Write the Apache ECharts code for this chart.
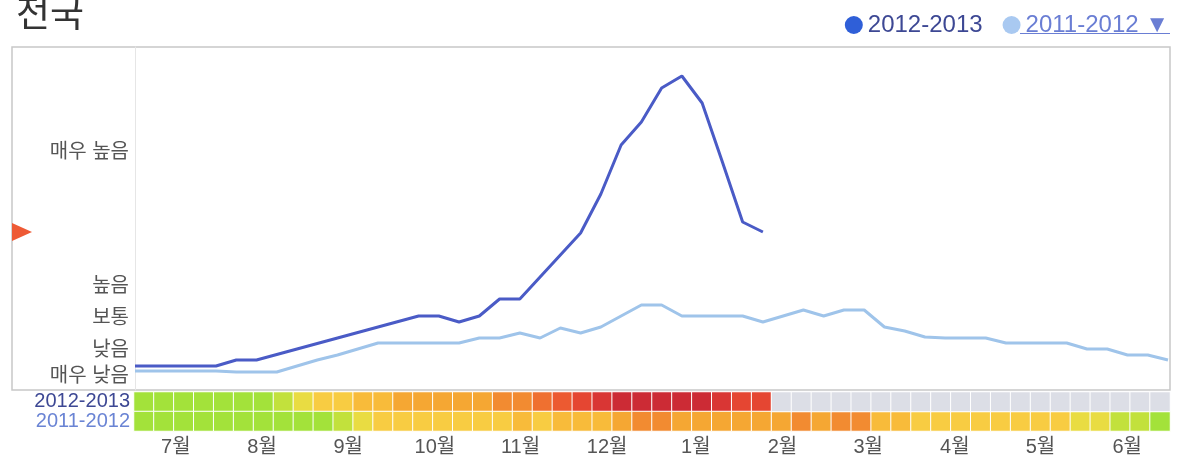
<!DOCTYPE html>
<html>
<head>
<meta charset="utf-8">
<script src="https://cdn.jsdelivr.net/npm/echarts@6/dist/echarts.min.js"></script>
<style>
html, body { margin: 0; padding: 0; background: #fff; }
#main { width: 1178px; height: 457px; }
</style>
</head>
<body>
<div id="main"></div>
<script>
// 독감 활동 지수 (주간, 7월 ~ 6월)
const seasons = ['2011-2012', '2012-2013'];
const weeks = Array.from({ length: 52 }, (_, i) => 'W' + (i + 1));
const season2013 = [24, 24, 24, 24, 24, 30, 30, 35.5, 41, 46.5, 52, 57.5, 63, 68.5, 74, 74,
  68, 74, 91, 91, 113, 135, 157, 196, 245, 268, 302, 314, 287, 228, 168, 158];
const season2012 = [19, 19, 19, 19, 19, 18, 18, 18, 24, 30, 35, 41, 47, 47, 47, 47,
  47, 52, 52, 57, 52, 62, 57, 63, 74, 85, 85, 74, 74, 74, 74, 68,
  74, 80, 74, 80, 80, 63, 59, 53, 52, 52, 52, 47, 47, 47, 47, 41,
  41, 35, 35, 30];
const levelNames = ['매우 낮음', '낮음', '보통', '높음', '매우 높음'];
const levelValues = [14, 40, 72, 104, 238];
const monthNames = ['7월', '8월', '9월', '10월', '11월', '12월', '1월', '2월', '3월', '4월', '5월', '6월'];
const monthPos = [2.1, 6.43, 10.75, 15.1, 19.4, 23.75, 28.2, 32.55, 36.85, 41.2, 45.5, 49.85];

const FONT = "'Liberation Sans', 'Noto Sans CJK KR', sans-serif";

const myChart = echarts.init(document.getElementById('main'));

// 히트맵 셀 데이터
const cells2013 = season2013.map((v, i) => [i, '2012-2013', v]);
const cells2012 = season2012.map((v, i) => [i, '2011-2012', v]);
const cellsEmpty = [];
for (let i = season2013.length; i < weeks.length; i++) {
  cellsEmpty.push([i, '2012-2013', 0]);
}

myChart.setOption({
  animation: false,
  title: {
    text: '전국',
    left: 11,
    top: -7,
    textStyle: { fontSize: 37, fontWeight: 'normal', color: '#333', fontFamily: FONT }
  },
  legend: {
    right: 4,
    top: 8,
    icon: 'circle',
    itemWidth: 18,
    itemHeight: 18,
    itemGap: 20,
    textStyle: { fontSize: 24, fontFamily: FONT },
    formatter: name => (name === '2011-2012' ? name + ' ▼' : name),
    data: [
      { name: '2012-2013', itemStyle: { color: '#2f5fd8' }, textStyle: { color: '#3d4894' } },
      { name: '2011-2012', itemStyle: { color: '#a9c9f1' }, textStyle: { color: '#6a7ed4' } }
    ]
  },
  grid: [
    { left: 135, right: 10, top: 47, height: 343 },
    { left: 134, right: 8, top: 392, height: 39 }
  ],
  xAxis: [
    {
      type: 'category', gridIndex: 0, data: weeks, boundaryGap: false,
      axisLine: { show: false }, axisTick: { show: false }, axisLabel: { show: false }
    },
    {
      type: 'category', gridIndex: 1, data: weeks,
      axisLine: { show: false }, axisTick: { show: false }, axisLabel: { show: false }
    },
    {
      type: 'value', gridIndex: 1, min: 0, max: weeks.length, position: 'bottom',
      axisLine: { show: false }, axisTick: { show: false }, splitLine: { show: false },
      axisLabel: {
        customValues: monthPos,
        formatter: v => monthNames[monthPos.indexOf(v)],
        margin: 6, fontSize: 20, color: '#555', fontFamily: FONT
      }
    }
  ],
  yAxis: [
    {
      type: 'value', gridIndex: 0, min: 0, max: 343,
      axisLine: { show: true, lineStyle: { color: '#e6e6e6' } },
      axisTick: { show: false }, splitLine: { show: false },
      axisLabel: {
        customValues: levelValues,
        formatter: v => levelNames[levelValues.indexOf(v)],
        margin: 6, fontSize: 20, color: '#555', fontFamily: FONT
      }
    },
    {
      type: 'category', gridIndex: 1, data: seasons,
      axisLine: { show: false }, axisTick: { show: false },
      axisLabel: {
        interval: 0, margin: 4, fontSize: 20, fontFamily: FONT,
        color: v => (v === '2012-2013' ? '#3d4894' : '#6a84d4')
      }
    }
  ],
  visualMap: {
    type: 'piecewise',
    show: false,
    seriesIndex: [2, 3],
    dimension: 2,
    pieces: [
      { lt: 32, color: '#a3e23a' },
      { gte: 32, lt: 38, color: '#c2e13c' },
      { gte: 38, lt: 45, color: '#e9dc42' },
      { gte: 45, lt: 55, color: '#f8cc42' },
      { gte: 55, lt: 65, color: '#f8bb3a' },
      { gte: 65, lt: 80, color: '#f5a733' },
      { gte: 80, lt: 95, color: '#f28b31' },
      { gte: 95, lt: 120, color: '#ef7030' },
      { gte: 120, lt: 150, color: '#ec5a31' },
      { gte: 150, lt: 180, color: '#e54632' },
      { gte: 180, lt: 230, color: '#d93634' },
      { gte: 230, color: '#cc2b35' }
    ]
  },
  graphic: [
    {
      id: 'frame', type: 'rect', silent: true, z: 0,
      shape: { x: 12, y: 47, width: 1158, height: 343 },
      style: { fill: 'none', stroke: '#c8c8c8', lineWidth: 1.5 }
    }
  ],
  series: [
    {
      name: '2012-2013', type: 'line', xAxisIndex: 0, yAxisIndex: 0,
      data: season2013, showSymbol: false, z: 3,
      lineStyle: { color: '#4a5bc6', width: 3 }, itemStyle: { color: '#4a5bc6' }
    },
    {
      name: '2011-2012', type: 'line', xAxisIndex: 0, yAxisIndex: 0,
      data: season2012, showSymbol: false, z: 2,
      lineStyle: { color: '#9fc4ea', width: 3 }, itemStyle: { color: '#9fc4ea' }
    },
    {
      name: 'heat2013', type: 'heatmap', xAxisIndex: 1, yAxisIndex: 1,
      data: cells2013, itemStyle: { borderColor: '#fff', borderWidth: 1 }
    },
    {
      name: 'heat2012', type: 'heatmap', xAxisIndex: 1, yAxisIndex: 1,
      data: cells2012, itemStyle: { borderColor: '#fff', borderWidth: 1 }
    },
    {
      name: 'empty', type: 'heatmap', xAxisIndex: 1, yAxisIndex: 1,
      data: cellsEmpty, itemStyle: { color: '#dcdee6', borderColor: '#fff', borderWidth: 1 }
    }
  ]
});

// 현재 수준 표시 (마지막 주 값), 범례 밑줄
const lastY = myChart.convertToPixel({ yAxisIndex: 0 }, season2013[season2013.length - 1]);
myChart.setOption({
  graphic: [
    {
      id: 'current', type: 'polygon', silent: true,
      shape: { points: [[12, lastY - 9], [32, lastY], [12, lastY + 9]] },
      style: { fill: '#ee5a35' }
    },
    {
      id: 'underline', type: 'line', silent: true,
      shape: { x1: 1020, y1: 33.5, x2: 1170, y2: 33.5 },
      style: { stroke: '#6a7ed4', lineWidth: 1 }
    }
  ]
});
</script>
</body>
</html>
